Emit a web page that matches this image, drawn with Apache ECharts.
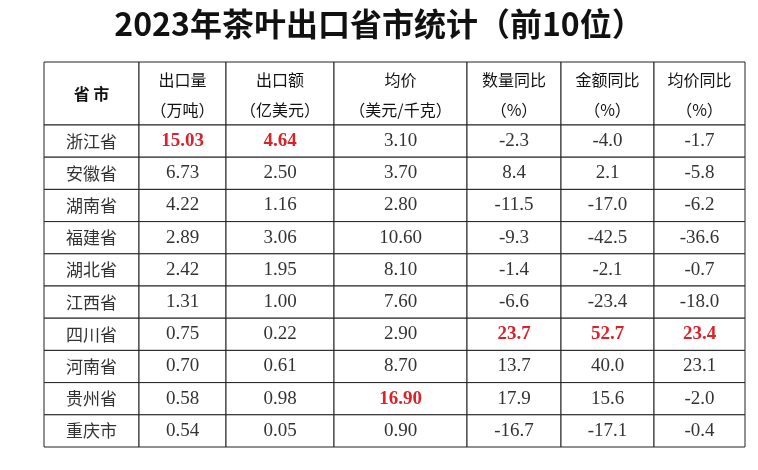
<!DOCTYPE html><html><head><meta charset="utf-8"><script src="https://cdn.jsdelivr.net/npm/echarts@6/dist/echarts.min.js"></script>
<style>html,body{margin:0;background:#fff}#c{width:758px;height:470px}</style></head><body><div id="c"></div><script>
var title = '2023年茶叶出口省市统计（前10位）';
var headers = [['省 市',''],['出口量','（万吨）'],['出口额','（亿美元）'],['均价','（美元/千克）'],['数量同比','（%）'],['金额同比','（%）'],['均价同比','（%）']];
var provinces = ['浙江省','安徽省','湖南省','福建省','湖北省','江西省','四川省','河南省','贵州省','重庆市'];
var volume = ['15.03','6.73','4.22','2.89','2.42','1.31','0.75','0.70','0.58','0.54'];
var value = ['4.64','2.50','1.16','3.06','1.95','1.00','0.22','0.61','0.98','0.05'];
var price = ['3.10','3.70','2.80','10.60','8.10','7.60','2.90','8.70','16.90','0.90'];
var volYoY = ['-2.3','8.4','-11.5','-9.3','-1.4','-6.6','23.7','13.7','17.9','-16.7'];
var valYoY = ['-4.0','2.1','-17.0','-42.5','-2.1','-23.4','52.7','40.0','15.6','-17.1'];
var priceYoY = ['-1.7','-5.8','-6.2','-36.6','-0.7','-18.0','23.4','23.1','-2.0','-0.4'];
var highlights = [[0,1],[0,2],[8,3],[6,4],[6,5],[6,6]];
// layout
var colEdges = [44,139,226,334,467,561,654,745];
var rowEdges = [62,125];
for (var i=1;i<=10;i++) rowEdges.push(125+i*32.2);
var cols = [provinces,volume,value,price,volYoY,valYoY,priceYoY];
var cells = [];
headers.forEach(function(h,c){cells.push({value:[c,0],name:h[0]+'\n'+h[1],header:true});});
for (var r=0;r<10;r++) for (var c=0;c<7;c++){
  var red = highlights.some(function(p){return p[0]===r&&p[1]===c;});
  cells.push({value:[c,r+1],name:cols[c][r],red:red});
}
var chart = echarts.init(document.getElementById('c'));
chart.setOption({
  backgroundColor:'#fff',
  title:{text:title,left:'center',top:3,textStyle:{fontFamily:'Noto Sans CJK SC',fontSize:32,fontWeight:'bold',color:'#111'}},
  grid:{left:0,right:0,top:0,bottom:0},
  xAxis:{type:'value',min:0,max:758,show:false},
  yAxis:{type:'value',min:0,max:470,inverse:true,show:false},
  series:[{type:'custom',data:cells,renderItem:function(params,api){
    var d = cells[params.dataIndex];
    var c=d.value[0], r=d.value[1];
    var p0 = api.coord([colEdges[c],rowEdges[r]]), p1 = api.coord([colEdges[c+1],rowEdges[r+1]]);
    var cx=(p0[0]+p1[0])/2, cy=(p0[1]+p1[1])/2;
    var children=[{type:'rect',shape:{x:p0[0],y:p0[1],width:p1[0]-p0[0],height:p1[1]-p0[1]},style:{fill:'#fff',stroke:'#222',lineWidth:1}}];
    if (d.header){
      var h=headers[c];
      if(!h[1]) children.push({type:'text',style:{text:h[0],x:cx,y:cy,align:'center',verticalAlign:'middle',font:'bold 16px "Noto Sans CJK SC"',fill:'#111'}});
      else {
        children.push({type:'text',style:{text:h[0],x:cx,y:cy-14,align:'center',verticalAlign:'middle',font:'16px "Noto Sans CJK SC"',fill:'#111'}});
        children.push({type:'text',style:{text:h[1],x:cx,y:cy+16,align:'center',verticalAlign:'middle',font:'16px "Noto Sans CJK SC"',fill:'#111'}});
      }
    } else {
      var isNum = c>0;
      children.push({type:'text',style:{text:d.name,x:cx,y:cy,align:'center',verticalAlign:'middle',
        font:(d.red?'bold ':'')+(isNum?'19px "Liberation Serif"':'17px "Noto Sans CJK SC"'),fill:d.red?'#d8232a':'#333'}});
    }
    return {type:'group',children:children};
  }}]
});
</script></body></html>
